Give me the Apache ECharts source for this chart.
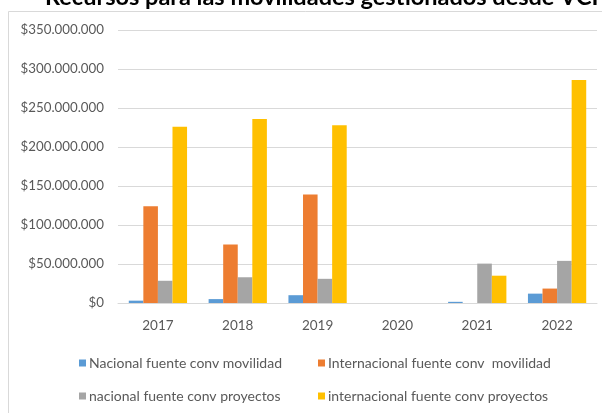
<!DOCTYPE html>
<html>
<head>
<meta charset="utf-8">
<script src="https://cdn.jsdelivr.net/npm/echarts@6/dist/echarts.min.js"></script>
<style>
html,body{margin:0;padding:0;background:#fff;}
#c{width:602px;height:413px;}
</style>
</head>
<body>
<div id="c"></div>
<script>
var titleText = 'Recursos para las movilidades gestionados desde VCI';
var categories = ['2017', '2018', '2019', '2020', '2021', '2022'];
var seriesNames = [
  'Nacional fuente conv movilidad',
  'Internacional fuente conv  movilidad',
  'nacional fuente conv proyectos',
  'internacional fuente conv proyectos'
];
var nacionalMovilidad = [3000000, 5000000, 10000000, 0, 1500000, 12000000];
var internacionalMovilidad = [124000000, 75000000, 139000000, 0, 0, 18500000];
var nacionalProyectos = [28500000, 33000000, 31000000, 0, 50500000, 54000000];
var internacionalProyectos = [226000000, 236000000, 228000000, 0, 35000000, 286000000];
var yTickValues = [0, 50000000, 100000000, 150000000, 200000000, 250000000, 300000000, 350000000];
var yTickLabels = ['$0', '$50.000.000', '$100.000.000', '$150.000.000', '$200.000.000', '$250.000.000', '$300.000.000', '$350.000.000'];

var colors = ['#5B9BD5', '#ED7D31', '#A5A5A5', '#FFC000'];
var dataSets = [nacionalMovilidad, internacionalMovilidad, nacionalProyectos, internacionalProyectos];
var FONT = 'Lato';
var legendPos = [[79, 356], [318, 356], [79, 389], [318, 389]];

var chart = echarts.init(document.getElementById('c'), null, {renderer: 'canvas'});
var option = {
  animation: false,
  backgroundColor: '#fff',
  title: {
    text: titleText,
    left: 45,
    top: -15,
    padding: 0,
    textStyle: {fontFamily: FONT, fontWeight: 'bold', fontSize: 23.5, color: '#000'}
  },
  graphic: [{
    type: 'rect',
    shape: {x: 8.5, y: 11.5, width: 700, height: 500},
    style: {fill: 'none', stroke: '#d9d9d9', lineWidth: 1},
    silent: true,
    z: -1
  }],
  legend: seriesNames.map(function (n, i) {
    return {
      data: [n],
      left: legendPos[i][0],
      top: legendPos[i][1],
      padding: 0,
      itemWidth: 7,
      itemHeight: 7,
      itemGap: 0,
      icon: 'rect',
      textStyle: {fontFamily: FONT, fontSize: 14, color: '#595959', padding: [0, 0, 0, -2]}
    };
  }),
  grid: {left: 118, right: 5, top: 30, bottom: 110, containLabel: false},
  xAxis: {
    type: 'category',
    data: categories,
    axisLine: {show: true, lineStyle: {color: '#d9d9d9', width: 1}},
    axisTick: {show: false},
    axisLabel: {fontFamily: FONT, fontSize: 13.5, color: '#595959', margin: 16}
  },
  yAxis: {
    type: 'value',
    min: 0,
    max: 350000000,
    interval: 50000000,
    axisLine: {show: false},
    axisTick: {show: false},
    splitLine: {lineStyle: {color: '#d9d9d9', width: 1}},
    axisLabel: {
      fontFamily: FONT, fontSize: 13.3, color: '#595959', margin: 14,
      formatter: function (v) { return yTickLabels[yTickValues.indexOf(v)]; }
    }
  },
  series: seriesNames.map(function (n, i) {
    return {
      name: n,
      type: 'bar',
      data: dataSets[i],
      barGap: 0,
      barCategoryGap: '27%',
      itemStyle: {color: colors[i]}
    };
  })
};
chart.setOption(option);
</script>
</body>
</html>
